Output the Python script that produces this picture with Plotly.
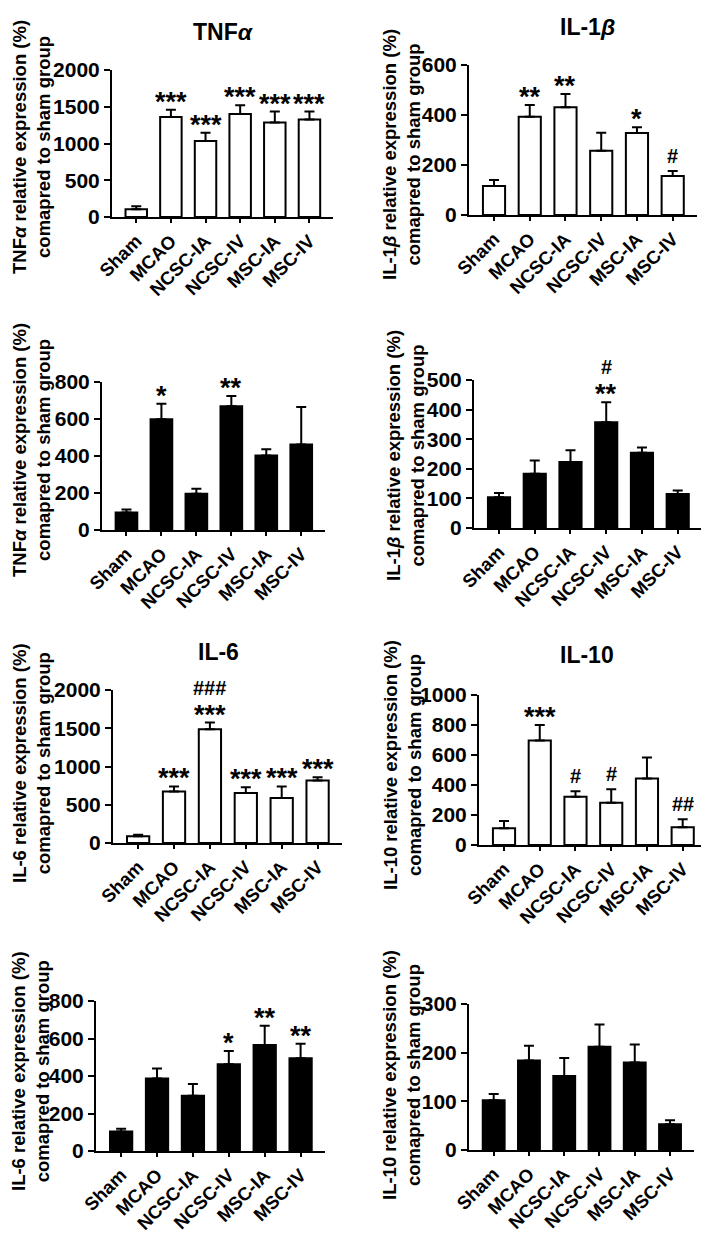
import plotly.graph_objects as go

# page body has an 8px default margin: the figure is sized so page == window
OFF = 8
FW, FH = 709 - OFF, 1242 - 2 * OFF

categories = ["Sham", "MCAO", "NCSC-IA", "NCSC-IV", "MSC-IA", "MSC-IV"]

# Panel A: TNFa (white bars)
tnfa_w_mean = [105, 1360, 1035, 1400, 1285, 1325]
tnfa_w_sem = [40, 100, 110, 120, 150, 110]
tnfa_w_stars = ["", "***", "***", "***", "***", "***"]
tnfa_w_hash = ["", "", "", "", "", ""]

# Panel B: IL-1b (white bars)
il1b_w_mean = [116, 393, 431, 257, 328, 156]
il1b_w_sem = [24, 47, 53, 72, 23, 20]
il1b_w_stars = ["", "**", "**", "", "*", ""]
il1b_w_hash = ["", "", "", "", "", "#"]

# Panel C: TNFa (black bars)
tnfa_b_mean = [94, 599, 196, 669, 403, 462]
tnfa_b_sem = [17, 84, 27, 56, 34, 203]
tnfa_b_stars = ["", "*", "", "**", "", ""]
tnfa_b_hash = ["", "", "", "", "", ""]

# Panel D: IL-1b (black bars)
il1b_b_mean = [104, 183, 223, 357, 254, 115]
il1b_b_sem = [14, 45, 40, 68, 18, 12]
il1b_b_stars = ["", "", "", "**", "", ""]
il1b_b_hash = ["", "", "", "#", "", ""]

# Panel E: IL-6 (white bars)
il6_w_mean = [87, 674, 1487, 652, 587, 817]
il6_w_sem = [22, 65, 87, 78, 152, 44]
il6_w_stars = ["", "***", "***", "***", "***", "***"]
il6_w_hash = ["", "", "###", "", "", ""]

# Panel F: IL-10 (white bars)
il10_w_mean = [111, 696, 322, 282, 444, 118]
il10_w_sem = [49, 104, 36, 89, 140, 53]
il10_w_stars = ["", "***", "", "", "", ""]
il10_w_hash = ["", "", "#", "#", "", "##"]

# Panel G: IL-6 (black bars)
il6_b_mean = [104, 386, 294, 463, 565, 494]
il6_b_sem = [14, 54, 63, 70, 103, 78]
il6_b_stars = ["", "", "", "*", "**", "**"]
il6_b_hash = ["", "", "", "", "", ""]

# Panel H: IL-10 (black bars)
il10_b_mean = [102, 184, 152, 212, 180, 53]
il10_b_sem = [13, 30, 37, 46, 37, 8]
il10_b_stars = ["", "", "", "", "", ""]
il10_b_hash = ["", "", "", "", "", ""]

ytitle_tnfa = "TNF<i>α</i> relative expression (%)<br>comapred to sham group"
ytitle_il1b = "IL-1<i>β</i> relative expression (%)<br>comapred to sham group"
ytitle_il6 = "IL-6 relative expression (%)<br>comapred to sham group"
ytitle_il10 = "IL-10 relative expression (%)<br>comapred to sham group"


def px(x):
    return (x - OFF) / FW


def py(y):
    return 1 - (y - OFF) / FH


panels = [
    dict(mean=tnfa_w_mean, sem=tnfa_w_sem, stars=tnfa_w_stars, hashes=tnfa_w_hash, fill="white",
         box=(112, 333, 70, 217), ymax=2000, dtick=500, title="TNF<i>α</i>", tpos=(224, 32),
         ytitle=ytitle_tnfa, ytpos=(31, 147)),
    dict(mean=il1b_w_mean, sem=il1b_w_sem, stars=il1b_w_stars, hashes=il1b_w_hash, fill="white",
         box=(469, 697, 65, 215), ymax=600, dtick=200, title="IL-1<i>β</i>", tpos=(587, 27),
         ytitle=ytitle_il1b, ytpos=(402, 155)),
    dict(mean=tnfa_b_mean, sem=tnfa_b_sem, stars=tnfa_b_stars, hashes=tnfa_b_hash, fill="black",
         box=(102, 325, 382, 530), ymax=800, dtick=200, title=None, tpos=None,
         ytitle=ytitle_tnfa, ytpos=(31, 450)),
    dict(mean=il1b_b_mean, sem=il1b_b_sem, stars=il1b_b_stars, hashes=il1b_b_hash, fill="black",
         box=(474, 702, 380, 528), ymax=500, dtick=100, title=None, tpos=None,
         ytitle=ytitle_il1b, ytpos=(405, 455)),
    dict(mean=il6_w_mean, sem=il6_w_sem, stars=il6_w_stars, hashes=il6_w_hash, fill="white",
         box=(113, 342, 690, 843), ymax=2000, dtick=500, title="IL-6", tpos=(218, 652),
         ytitle=ytitle_il6, ytpos=(31, 763)),
    dict(mean=il10_w_mean, sem=il10_w_sem, stars=il10_w_stars, hashes=il10_w_hash, fill="white",
         box=(479, 707, 695, 845), ymax=1000, dtick=200, title="IL-10", tpos=(587, 655),
         ytitle=ytitle_il10, ytpos=(402, 765)),
    dict(mean=il6_b_mean, sem=il6_b_sem, stars=il6_b_stars, hashes=il6_b_hash, fill="black",
         box=(96, 325, 1001, 1151), ymax=800, dtick=200, title=None, tpos=None,
         ytitle=ytitle_il6, ytpos=(30, 1071)),
    dict(mean=il10_b_mean, sem=il10_b_sem, stars=il10_b_stars, hashes=il10_b_hash, fill="black",
         box=(469, 694, 1004, 1150), ymax=300, dtick=100, title=None, tpos=None,
         ytitle=ytitle_il10, ytpos=(401, 1075)),
]

FONT = "Liberation Sans, Arial, sans-serif"

fig = go.Figure()
annotations = []
layout_axes = {}

for i, p in enumerate(panels, start=1):
    xa = "x" if i == 1 else f"x{i}"
    ya = "y" if i == 1 else f"y{i}"
    x0, x1, yt, yb = p["box"]
    fig.add_trace(go.Bar(
        x=categories, y=p["mean"], xaxis=xa, yaxis=ya, width=0.62,
        marker=dict(color=p["fill"], line=dict(color="black", width=2)),
        error_y=dict(type="data", array=p["sem"], arrayminus=[0] * len(p["sem"]),
                     symmetric=False, color="black", thickness=2, width=5),
        showlegend=False, hoverinfo="skip",
    ))
    common = dict(showline=True, linecolor="black", linewidth=2, ticks="outside",
                  tickwidth=2, tickcolor="black", showgrid=False, zeroline=False,
                  automargin=False)
    layout_axes["xaxis" if i == 1 else f"xaxis{i}"] = dict(
        domain=[px(x0), px(x1)], anchor=ya, range=[-0.7, 5.68], ticklen=4,
        tickangle=-45, tickfont=dict(family=FONT, size=18.5, color="black", weight="bold"),
        **common)
    layout_axes["yaxis" if i == 1 else f"yaxis{i}"] = dict(
        domain=[py(yb), py(yt)], anchor=xa, range=[0, p["ymax"]], dtick=p["dtick"],
        ticklen=6, tickfont=dict(family=FONT, size=21, color="black", weight="bold"),
        **common)
    for c, m, s, st, hs in zip(categories, p["mean"], p["sem"], p["stars"], p["hashes"]):
        top = m + s
        if st:
            annotations.append(dict(x=c, y=top, xref=xa, yref=ya, text=st, showarrow=False,
                                    yanchor="bottom", yshift=-9,
                                    font=dict(family=FONT, size=27, color="black", weight="bold")))
        if hs:
            annotations.append(dict(x=c, y=top, xref=xa, yref=ya, text=hs, showarrow=False,
                                    yanchor="bottom", yshift=(22 if st else 2),
                                    font=dict(family=FONT, size=20, color="black", weight="bold")))
    if p["title"]:
        tx, ty = p["tpos"]
        annotations.append(dict(x=px(tx), y=py(ty), xref="paper", yref="paper",
                                text=p["title"], showarrow=False, xanchor="center", yanchor="middle",
                                font=dict(family=FONT, size=23, color="black", weight="bold")))
    ytx, yty = p["ytpos"]
    annotations.append(dict(x=px(ytx), y=py(yty), xref="paper", yref="paper",
                            text=p["ytitle"], showarrow=False, textangle=-90,
                            xanchor="center", yanchor="middle", align="center",
                            font=dict(family=FONT, size=18.5, color="black", weight="bold")))

fig.update_layout(
    template="none",
    width=FW, height=FH, margin=dict(l=0, r=0, t=0, b=0, pad=0),
    paper_bgcolor="white", plot_bgcolor="white",
    font=dict(family=FONT, color="black", weight="bold"),
    annotations=annotations, bargap=0.3, showlegend=False,
    **layout_axes,
)

fig.write_html("out.html")
